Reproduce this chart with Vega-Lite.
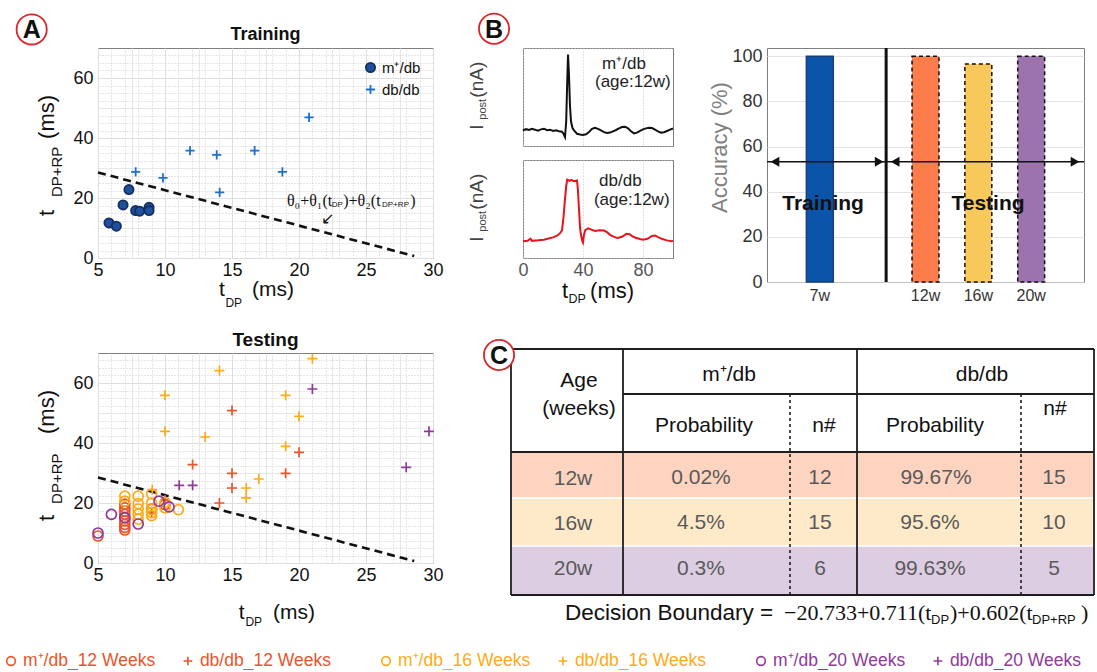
{
  "$schema": "https://vega.github.io/schema/vega-lite/v6.json",
  "background": "white",
  "padding": {"left": 3, "top": 9, "right": 0, "bottom": 0},
  "config": {
    "font": "Liberation Sans",
    "view": {"stroke": "#7f7f7f", "strokeWidth": 1},
    "axis": {"labelFont": "Liberation Sans", "titleFont": "Liberation Sans"},
    "legend": {"labelFont": "Liberation Sans"},
    "title": {"font": "Liberation Sans"},
    "text": {"font": "Liberation Sans"}
  },
  "resolve": {"scale": {"color": "independent", "fill": "independent", "stroke": "independent", "shape": "independent", "strokeDash": "independent", "xOffset": "independent"}},
  "spacing": 23,
  "vconcat": [
    {
      "spacing": 23,
      "resolve": {"scale": {"color": "independent", "fill": "independent", "stroke": "independent", "shape": "independent", "strokeDash": "independent"}},
      "hconcat": [
        {
          "bounds": "flush",
          "spacing": 95,
          "resolve": {"scale": {"color": "independent", "fill": "independent", "stroke": "independent", "shape": "independent", "strokeDash": "independent"}},
          "vconcat": [
            {
              "width": 335,
              "height": 210,
              "resolve": {"axis": {"x": "independent", "y": "independent"}},
              "layer": [
                {
                  "data": {"values": [{"x": 5, "y": 28.5}, {"x": 28.6, "y": 0.65}]},
                  "mark": {"type": "line", "color": "#111", "strokeWidth": 2.6, "strokeDash": [8, 5]},
                  "encoding": {
                    "x": {"field": "x", "type": "quantitative", "scale": {"domain": [5, 30], "nice": false, "zero": false},
                      "axis": {"orient": "top", "title": null, "labels": false, "ticks": false, "domain": false, "grid": true,
                        "values": [6,7,7.5,8,9,11,12,12.5,13,14,16,17,17.5,18,19,21,22,22.5,23,24,26,27,27.5,28,29],
                        "gridColor": {"condition": {"test": "datum.value % 2.5 === 0", "value": "#dedede"}, "value": "#cdcdcd"},
                        "gridDash": {"condition": {"test": "datum.value % 2.5 === 0", "value": [1, 0]}, "value": [1, 2]}}},
                    "y": {"field": "y", "type": "quantitative", "scale": {"domain": [0, 70], "nice": false, "zero": false},
                      "axis": {"orient": "right", "title": null, "labels": false, "ticks": false, "domain": false, "grid": true,
                        "values": [2.5,5,7.5,10,12.5,15,17.5,22.5,25,27.5,30,32.5,35,37.5,42.5,45,47.5,50,52.5,55,57.5,62.5,65,67.5],
                        "gridColor": {"condition": {"test": "datum.value % 10 === 0", "value": "#dedede"}, "value": "#cdcdcd"},
                        "gridDash": {"condition": {"test": "datum.value % 10 === 0", "value": [1, 0]}, "value": [1, 2]}}}
                  }
                },
                {
                  "data": {"values": [
                    {"type": "m⁺/db", "x": 5.82, "y": 11.7},
                    {"type": "m⁺/db", "x": 6.37, "y": 10.6},
                    {"type": "m⁺/db", "x": 6.87, "y": 17.7},
                    {"type": "m⁺/db", "x": 7.31, "y": 22.8},
                    {"type": "m⁺/db", "x": 7.81, "y": 15.8},
                    {"type": "m⁺/db", "x": 8.11, "y": 15.6},
                    {"type": "m⁺/db", "x": 8.81, "y": 16.9},
                    {"type": "m⁺/db", "x": 8.81, "y": 15.8},
                    {"type": "db/db", "x": 7.81, "y": 28.7},
                    {"type": "db/db", "x": 9.85, "y": 26.7},
                    {"type": "db/db", "x": 11.87, "y": 35.8},
                    {"type": "db/db", "x": 13.86, "y": 34.4},
                    {"type": "db/db", "x": 14.08, "y": 21.9},
                    {"type": "db/db", "x": 16.69, "y": 35.8},
                    {"type": "db/db", "x": 18.76, "y": 28.7},
                    {"type": "db/db", "x": 20.75, "y": 46.9}
                  ]},
                  "mark": {"type": "point", "size": 85, "strokeWidth": 1.8, "opacity": 1},
                  "encoding": {
                    "x": {"field": "x", "type": "quantitative", "scale": {"domain": [5, 30], "nice": false, "zero": false},
                      "axis": {"orient": "bottom", "title": null, "values": [5, 10, 15, 20, 25, 30], "labelFontSize": 18, "labelColor": "#111", "labelPadding": 3,
                        "labelFlush": false, "labelOverlap": false, "ticks": false, "domain": false, "grid": true, "gridColor": "#dedede"}},
                    "y": {"field": "y", "type": "quantitative", "scale": {"domain": [0, 70], "nice": false, "zero": false},
                      "axis": {"orient": "left", "title": null, "values": [0, 20, 40, 60], "labelFontSize": 18, "labelColor": "#111", "labelPadding": 5,
                        "labelFlush": false, "labelOverlap": false, "ticks": false, "domain": false, "grid": true, "gridColor": "#dedede"}},
                    "fill": {"field": "type", "type": "nominal", "scale": {"domain": ["m⁺/db", "db/db"], "range": ["#1f4f9d", "transparent"]},
                      "legend": {"title": null, "orient": "top-right", "offset": 12, "padding": 0, "labelFontSize": 15, "labelColor": "#111", "symbolSize": 85, "symbolStrokeWidth": 1.8, "symbolOpacity": 1, "rowPadding": 5}},
                    "stroke": {"field": "type", "type": "nominal", "scale": {"domain": ["m⁺/db", "db/db"], "range": ["#12305f", "#1f6fc9"]},
                      "legend": {"title": null, "orient": "top-right", "offset": 12, "padding": 0, "labelFontSize": 15, "labelColor": "#111", "symbolSize": 85, "symbolStrokeWidth": 1.8, "symbolOpacity": 1, "rowPadding": 5}},
                    "shape": {"field": "type", "type": "nominal", "scale": {"domain": ["m⁺/db", "db/db"], "range": ["circle", "M-1,0L1,0M0,-1L0,1"]},
                      "legend": {"title": null, "orient": "top-right", "offset": 12, "padding": 0, "labelFontSize": 15, "labelColor": "#111", "symbolSize": 85, "symbolStrokeWidth": 1.8, "symbolOpacity": 1, "rowPadding": 5}}
                  }
                },
                {
                  "data": {"values": [{"x": 17.5, "y": 74.33, "text": "Training"}]},
                  "mark": {"type": "text", "fontSize": 18, "fontWeight": "bold", "color": "#111", "baseline": "middle"},
                  "encoding": {
                    "x": {"field": "x", "type": "quantitative", "scale": {"domain": [5, 30], "nice": false, "zero": false}, "axis": null},
                    "y": {"field": "y", "type": "quantitative", "scale": {"domain": [0, 70], "nice": false, "zero": false}, "axis": null},
                    "text": {"field": "text"}
                  }
                },
                {
                  "data": {"values": [{"x": 19.1, "y": 19, "text": "θ₀+θ₁(t"}, {"x": 23.3, "y": 19, "text": ")+θ₂(t"}, {"x": 28.3, "y": 19, "text": ")"}]},
                  "mark": {"type": "text", "font": "Liberation Serif", "fontSize": 16, "align": "left", "baseline": "middle", "color": "#111"},
                  "encoding": {
                    "x": {"field": "x", "type": "quantitative", "scale": {"domain": [5, 30], "nice": false, "zero": false}, "axis": null},
                    "y": {"field": "y", "type": "quantitative", "scale": {"domain": [0, 70], "nice": false, "zero": false}, "axis": null},
                    "text": {"field": "text"}
                  }
                },
                {
                  "data": {"values": [{"x": 22.45, "y": 17.7, "text": "DP"}, {"x": 26.2, "y": 17.7, "text": "DP+RP"}]},
                  "mark": {"type": "text", "fontSize": 8, "align": "left", "baseline": "middle", "color": "#111"},
                  "encoding": {
                    "x": {"field": "x", "type": "quantitative", "scale": {"domain": [5, 30], "nice": false, "zero": false}, "axis": null},
                    "y": {"field": "y", "type": "quantitative", "scale": {"domain": [0, 70], "nice": false, "zero": false}, "axis": null},
                    "text": {"field": "text"}
                  }
                },
                {
                  "data": {"values": [{"x": 22.16, "y": 13, "text": "↙"}]},
                  "mark": {"type": "text", "font": "DejaVu Sans", "fontSize": 16, "color": "#111"},
                  "encoding": {
                    "x": {"field": "x", "type": "quantitative", "scale": {"domain": [5, 30], "nice": false, "zero": false}, "axis": null},
                    "y": {"field": "y", "type": "quantitative", "scale": {"domain": [0, 70], "nice": false, "zero": false}, "axis": null},
                    "text": {"field": "text"}
                  }
                },
                {
                  "data": {"values": [{"x": 14.03, "y": -10.7, "text": "t"}, {"x": 16.49, "y": -10.7, "text": "(ms)"}]},
                  "mark": {"type": "text", "fontSize": 21, "align": "left", "baseline": "middle", "color": "#111"},
                  "encoding": {
                    "x": {"field": "x", "type": "quantitative", "scale": {"domain": [5, 30], "nice": false, "zero": false}, "axis": null},
                    "y": {"field": "y", "type": "quantitative", "scale": {"domain": [0, 70], "nice": false, "zero": false}, "axis": null},
                    "text": {"field": "text"}
                  }
                },
                {
                  "data": {"values": [{"x": 14.51, "y": -15, "text": "DP"}]},
                  "mark": {"type": "text", "fontSize": 12, "align": "left", "baseline": "middle", "color": "#111"},
                  "encoding": {
                    "x": {"field": "x", "type": "quantitative", "scale": {"domain": [5, 30], "nice": false, "zero": false}, "axis": null},
                    "y": {"field": "y", "type": "quantitative", "scale": {"domain": [0, 70], "nice": false, "zero": false}, "axis": null},
                    "text": {"field": "text"}
                  }
                },
                {
                  "data": {"values": [{"x": 1.19, "y": 14, "text": "t"}, {"x": 1.19, "y": 39.7, "text": "(ms)"}]},
                  "mark": {"type": "text", "fontSize": 22, "angle": 270, "align": "left", "baseline": "middle", "color": "#111"},
                  "encoding": {
                    "x": {"field": "x", "type": "quantitative", "scale": {"domain": [5, 30], "nice": false, "zero": false}, "axis": null},
                    "y": {"field": "y", "type": "quantitative", "scale": {"domain": [0, 70], "nice": false, "zero": false}, "axis": null},
                    "text": {"field": "text"}
                  }
                },
                {
                  "data": {"values": [{"x": 1.94, "y": 20.3, "text": "DP+RP"}]},
                  "mark": {"type": "text", "fontSize": 15, "angle": 270, "align": "left", "baseline": "middle", "color": "#111"},
                  "encoding": {
                    "x": {"field": "x", "type": "quantitative", "scale": {"domain": [5, 30], "nice": false, "zero": false}, "axis": null},
                    "y": {"field": "y", "type": "quantitative", "scale": {"domain": [0, 70], "nice": false, "zero": false}, "axis": null},
                    "text": {"field": "text"}
                  }
                },
                {
                  "data": {"values": [{"x": 0.05, "y": 76.2}]},
                  "mark": {"type": "point", "shape": "circle", "size": 910, "filled": false, "fill": "white", "stroke": "#d7262b", "strokeWidth": 1.8, "opacity": 1},
                  "encoding": {
                    "x": {"field": "x", "type": "quantitative", "scale": {"domain": [5, 30], "nice": false, "zero": false}, "axis": null},
                    "y": {"field": "y", "type": "quantitative", "scale": {"domain": [0, 70], "nice": false, "zero": false}, "axis": null}
                  }
                },
                {
                  "data": {"values": [{"x": 0.05, "y": 76.2, "text": "A"}]},
                  "mark": {"type": "text", "fontSize": 25, "fontWeight": "bold", "color": "#111", "baseline": "middle", "dy": 1},
                  "encoding": {
                    "x": {"field": "x", "type": "quantitative", "scale": {"domain": [5, 30], "nice": false, "zero": false}, "axis": null},
                    "y": {"field": "y", "type": "quantitative", "scale": {"domain": [0, 70], "nice": false, "zero": false}, "axis": null},
                    "text": {"field": "text"}
                  }
                }
              ]
            },
            {
              "width": 335,
              "height": 210,
              "resolve": {"axis": {"x": "independent", "y": "independent"}},
              "layer": [
                {
                  "data": {"values": [{"x": 5, "y": 28.5}, {"x": 28.6, "y": 0.65}]},
                  "mark": {"type": "line", "color": "#111", "strokeWidth": 2.6, "strokeDash": [8, 5]},
                  "encoding": {
                    "x": {"field": "x", "type": "quantitative", "scale": {"domain": [5, 30], "nice": false, "zero": false},
                      "axis": {"orient": "top", "title": null, "labels": false, "ticks": false, "domain": false, "grid": true,
                        "values": [6,7,7.5,8,9,11,12,12.5,13,14,16,17,17.5,18,19,21,22,22.5,23,24,26,27,27.5,28,29],
                        "gridColor": {"condition": {"test": "datum.value % 2.5 === 0", "value": "#dedede"}, "value": "#cdcdcd"},
                        "gridDash": {"condition": {"test": "datum.value % 2.5 === 0", "value": [1, 0]}, "value": [1, 2]}}},
                    "y": {"field": "y", "type": "quantitative", "scale": {"domain": [0, 70], "nice": false, "zero": false},
                      "axis": {"orient": "right", "title": null, "labels": false, "ticks": false, "domain": false, "grid": true,
                        "values": [2.5,5,7.5,10,12.5,15,17.5,22.5,25,27.5,30,32.5,35,37.5,42.5,45,47.5,50,52.5,55,57.5,62.5,65,67.5],
                        "gridColor": {"condition": {"test": "datum.value % 10 === 0", "value": "#dedede"}, "value": "#cdcdcd"},
                        "gridDash": {"condition": {"test": "datum.value % 10 === 0", "value": [1, 0]}, "value": [1, 2]}}}
                  }
                },
                {
                  "data": {"values": [
                    {"age": "12w", "type": "m⁺/db", "x": 5, "y": 9},
                    {"age": "12w", "type": "m⁺/db", "x": 7, "y": 11},
                    {"age": "12w", "type": "m⁺/db", "x": 7, "y": 11.9},
                    {"age": "12w", "type": "m⁺/db", "x": 7, "y": 12.9},
                    {"age": "12w", "type": "m⁺/db", "x": 7, "y": 14},
                    {"age": "12w", "type": "m⁺/db", "x": 7, "y": 15.1},
                    {"age": "12w", "type": "m⁺/db", "x": 7, "y": 16.2},
                    {"age": "12w", "type": "m⁺/db", "x": 7, "y": 17.3},
                    {"age": "12w", "type": "m⁺/db", "x": 7, "y": 18.4},
                    {"age": "12w", "type": "m⁺/db", "x": 7, "y": 19.6},
                    {"age": "12w", "type": "m⁺/db", "x": 9, "y": 18},
                    {"age": "12w", "type": "m⁺/db", "x": 10, "y": 19.5},
                    {"age": "12w", "type": "db/db", "x": 12.06, "y": 32.8},
                    {"age": "12w", "type": "db/db", "x": 15, "y": 50.8},
                    {"age": "12w", "type": "db/db", "x": 15, "y": 29.9},
                    {"age": "12w", "type": "db/db", "x": 15, "y": 25},
                    {"age": "12w", "type": "db/db", "x": 14.06, "y": 20},
                    {"age": "12w", "type": "db/db", "x": 19, "y": 29.9},
                    {"age": "12w", "type": "db/db", "x": 20, "y": 36.9},
                    {"age": "12w", "type": "db/db", "x": 9, "y": 17},
                    {"age": "12w", "type": "db/db", "x": 10, "y": 21},
                    {"age": "16w", "type": "m⁺/db", "x": 7, "y": 22.3},
                    {"age": "16w", "type": "m⁺/db", "x": 7, "y": 20.6},
                    {"age": "16w", "type": "m⁺/db", "x": 8, "y": 22.3},
                    {"age": "16w", "type": "m⁺/db", "x": 8, "y": 19.8},
                    {"age": "16w", "type": "m⁺/db", "x": 8, "y": 18},
                    {"age": "16w", "type": "m⁺/db", "x": 8, "y": 16.3},
                    {"age": "16w", "type": "m⁺/db", "x": 9, "y": 23},
                    {"age": "16w", "type": "m⁺/db", "x": 9, "y": 20},
                    {"age": "16w", "type": "m⁺/db", "x": 9, "y": 17.8},
                    {"age": "16w", "type": "m⁺/db", "x": 9, "y": 16.8},
                    {"age": "16w", "type": "m⁺/db", "x": 9, "y": 15.8},
                    {"age": "16w", "type": "m⁺/db", "x": 10, "y": 18.4},
                    {"age": "16w", "type": "m⁺/db", "x": 11, "y": 17.8},
                    {"age": "16w", "type": "m⁺/db", "x": 10, "y": 20.2},
                    {"age": "16w", "type": "m⁺/db", "x": 8, "y": 14.6},
                    {"age": "16w", "type": "db/db", "x": 10, "y": 55.9},
                    {"age": "16w", "type": "db/db", "x": 10, "y": 43.9},
                    {"age": "16w", "type": "db/db", "x": 14.06, "y": 64.1},
                    {"age": "16w", "type": "db/db", "x": 13, "y": 42},
                    {"age": "16w", "type": "db/db", "x": 19, "y": 55.9},
                    {"age": "16w", "type": "db/db", "x": 20, "y": 48.9},
                    {"age": "16w", "type": "db/db", "x": 19, "y": 38.9},
                    {"age": "16w", "type": "db/db", "x": 21, "y": 68.1},
                    {"age": "16w", "type": "db/db", "x": 17, "y": 28},
                    {"age": "16w", "type": "db/db", "x": 16.06, "y": 25},
                    {"age": "16w", "type": "db/db", "x": 16.06, "y": 21.7},
                    {"age": "16w", "type": "db/db", "x": 9.05, "y": 24.4},
                    {"age": "20w", "type": "m⁺/db", "x": 5, "y": 10},
                    {"age": "20w", "type": "m⁺/db", "x": 6, "y": 16.2},
                    {"age": "20w", "type": "m⁺/db", "x": 7, "y": 15.1},
                    {"age": "20w", "type": "m⁺/db", "x": 8, "y": 13},
                    {"age": "20w", "type": "m⁺/db", "x": 9.55, "y": 20.6},
                    {"age": "20w", "type": "m⁺/db", "x": 10.3, "y": 18.7},
                    {"age": "20w", "type": "db/db", "x": 11.06, "y": 25.9},
                    {"age": "20w", "type": "db/db", "x": 12.06, "y": 25.9},
                    {"age": "20w", "type": "db/db", "x": 21, "y": 58},
                    {"age": "20w", "type": "db/db", "x": 28, "y": 31.9},
                    {"age": "20w", "type": "db/db", "x": 29.7, "y": 43.9}
                  ]},
                  "mark": {"type": "point", "filled": false, "size": 100, "strokeWidth": 1.7, "opacity": 1},
                  "encoding": {
                    "x": {"field": "x", "type": "quantitative", "scale": {"domain": [5, 30], "nice": false, "zero": false},
                      "axis": {"orient": "bottom", "title": null, "values": [5, 10, 15, 20, 25, 30], "labelFontSize": 18, "labelColor": "#111", "labelPadding": 3,
                        "labelFlush": false, "labelOverlap": false, "ticks": false, "domain": false, "grid": true, "gridColor": "#dedede"}},
                    "y": {"field": "y", "type": "quantitative", "scale": {"domain": [0, 70], "nice": false, "zero": false},
                      "axis": {"orient": "left", "title": null, "values": [0, 20, 40, 60], "labelFontSize": 18, "labelColor": "#111", "labelPadding": 5,
                        "labelFlush": false, "labelOverlap": false, "ticks": false, "domain": false, "grid": true, "gridColor": "#dedede"}},
                    "color": {"field": "age", "type": "nominal", "scale": {"domain": ["12w", "16w", "20w"], "range": ["#e8552b", "#fdab16", "#8e3b97"]}, "legend": null},
                    "shape": {"field": "type", "type": "nominal", "scale": {"domain": ["m⁺/db", "db/db"], "range": ["circle", "M-1,0L1,0M0,-1L0,1"]}, "legend": null}
                  }
                },
                {
                  "data": {"values": [{"x": 17.5, "y": 74.33, "text": "Testing"}]},
                  "mark": {"type": "text", "fontSize": 19, "fontWeight": "bold", "color": "#111", "baseline": "middle"},
                  "encoding": {
                    "x": {"field": "x", "type": "quantitative", "scale": {"domain": [5, 30], "nice": false, "zero": false}, "axis": null},
                    "y": {"field": "y", "type": "quantitative", "scale": {"domain": [0, 70], "nice": false, "zero": false}, "axis": null},
                    "text": {"field": "text"}
                  }
                },
                {
                  "data": {"values": [{"x": 15.51, "y": -16.67, "text": "t"}, {"x": 18.06, "y": -16.67, "text": "(ms)"}]},
                  "mark": {"type": "text", "fontSize": 21, "align": "left", "baseline": "middle", "color": "#111"},
                  "encoding": {
                    "x": {"field": "x", "type": "quantitative", "scale": {"domain": [5, 30], "nice": false, "zero": false}, "axis": null},
                    "y": {"field": "y", "type": "quantitative", "scale": {"domain": [0, 70], "nice": false, "zero": false}, "axis": null},
                    "text": {"field": "text"}
                  }
                },
                {
                  "data": {"values": [{"x": 16.0, "y": -19.8, "text": "DP"}]},
                  "mark": {"type": "text", "fontSize": 12, "align": "left", "baseline": "middle", "color": "#111"},
                  "encoding": {
                    "x": {"field": "x", "type": "quantitative", "scale": {"domain": [5, 30], "nice": false, "zero": false}, "axis": null},
                    "y": {"field": "y", "type": "quantitative", "scale": {"domain": [0, 70], "nice": false, "zero": false}, "axis": null},
                    "text": {"field": "text"}
                  }
                },
                {
                  "data": {"values": [{"x": 1.19, "y": 14, "text": "t"}, {"x": 1.19, "y": 43, "text": "(ms)"}]},
                  "mark": {"type": "text", "fontSize": 22, "angle": 270, "align": "left", "baseline": "middle", "color": "#111"},
                  "encoding": {
                    "x": {"field": "x", "type": "quantitative", "scale": {"domain": [5, 30], "nice": false, "zero": false}, "axis": null},
                    "y": {"field": "y", "type": "quantitative", "scale": {"domain": [0, 70], "nice": false, "zero": false}, "axis": null},
                    "text": {"field": "text"}
                  }
                },
                {
                  "data": {"values": [{"x": 1.94, "y": 19.7, "text": "DP+RP"}]},
                  "mark": {"type": "text", "fontSize": 15, "angle": 270, "align": "left", "baseline": "middle", "color": "#111"},
                  "encoding": {
                    "x": {"field": "x", "type": "quantitative", "scale": {"domain": [5, 30], "nice": false, "zero": false}, "axis": null},
                    "y": {"field": "y", "type": "quantitative", "scale": {"domain": [0, 70], "nice": false, "zero": false}, "axis": null},
                    "text": {"field": "text"}
                  }
                }
              ]
            }
          ]
        },
        {
          "spacing": 30,
          "resolve": {"scale": {"color": "independent", "fill": "independent", "stroke": "independent", "shape": "independent", "strokeDash": "independent"}},
          "vconcat": [
            {
              "spacing": 30,
              "resolve": {"scale": {"color": "independent", "fill": "independent", "stroke": "independent", "shape": "independent", "strokeDash": "independent"}},
              "hconcat": [
                {
                  "bounds": "flush",
                  "spacing": 14,
                  "resolve": {"scale": {"color": "independent", "fill": "independent", "stroke": "independent", "shape": "independent", "strokeDash": "independent"}},
                  "vconcat": [
                    {
                      "width": 150,
                      "height": 98,
                      "layer": [
                        {
                          "data": {"values": [
                            {"x":0,"y":-0.5},{"x":2,"y":0.3},{"x":4,"y":-0.2},{"x":6,"y":0.5},{"x":8,"y":0},{"x":10,"y":-0.6},{"x":12,"y":0.2},{"x":14,"y":0.6},{"x":16,"y":-0.3},{"x":18,"y":0},{"x":20,"y":-0.8},{"x":22,"y":-0.4},{"x":24,"y":-1},{"x":26,"y":-1.3},{"x":27,"y":-2.5},{"x":28,"y":-4.5},{"x":28.8,"y":5},{"x":29.5,"y":30},{"x":30,"y":46},{"x":30.6,"y":35},{"x":31.3,"y":15},{"x":32,"y":5},{"x":33,"y":1},{"x":34,"y":-0.5},{"x":36,"y":-2.5},{"x":38,"y":-3},{"x":40,"y":-3.2},{"x":42,"y":-2.8},{"x":44,"y":-1.5},{"x":46,"y":0.5},{"x":48,"y":1.2},{"x":50,"y":0.5},{"x":52,"y":-0.5},{"x":54,"y":-1.5},{"x":56,"y":-2},{"x":58,"y":-1.8},{"x":60,"y":-1},{"x":62,"y":-0.2},{"x":64,"y":0.8},{"x":66,"y":1.6},{"x":68,"y":1.8},{"x":70,"y":0.8},{"x":72,"y":-1},{"x":74,"y":-2.3},{"x":76,"y":-1.8},{"x":78,"y":-0.8},{"x":80,"y":0.2},{"x":82,"y":0.8},{"x":84,"y":1.2},{"x":86,"y":1},{"x":88,"y":0},{"x":90,"y":-1},{"x":92,"y":-1.8},{"x":94,"y":-1.6},{"x":96,"y":-0.8},{"x":98,"y":0},{"x":100,"y":0.7}
                          ]},
                          "mark": {"type": "line", "color": "#111", "strokeWidth": 2},
                          "encoding": {
                            "x": {"field": "x", "type": "quantitative", "scale": {"domain": [0, 100], "nice": false, "zero": false},
                              "axis": {"title": null, "values": [0,5,10,15,20,25,30,35,40,45,50,55,60,65,70,75,80,85,90,95,100], "labels": false, "ticks": false, "domain": false, "grid": true, "gridColor": "#c4c4c4", "gridDash": [1, 2]}},
                            "y": {"field": "y", "type": "quantitative", "scale": {"domain": [-10, 50], "nice": false, "zero": false},
                              "axis": {"title": null, "values": [-10,-5,0,5,10,15,20,25,30,35,40,45,50], "labelExpr": "datum.value % 20 === 0 ? datum.label : ''", "labelFontSize": 18, "labelColor": "#555", "labelPadding": 3, "labelOverlap": false, "labelFlush": false, "ticks": false, "domain": false, "grid": true, "gridColor": "#c4c4c4", "gridDash": [1, 2]}}
                          }
                        },
                        {
                          "data": {"values": [{"x": 52.7, "y": 40.4, "text": "m⁺/db"}, {"x": 48, "y": 29.4, "text": "(age:12w)"}]},
                          "mark": {"type": "text", "fontSize": 17, "align": "left", "baseline": "middle", "color": "#222"},
                          "encoding": {
                            "x": {"field": "x", "type": "quantitative", "scale": {"domain": [0, 100], "nice": false, "zero": false}},
                            "y": {"field": "y", "type": "quantitative", "scale": {"domain": [-10, 50], "nice": false, "zero": false}},
                            "text": {"field": "text"}
                          }
                        },
                        {
                          "data": {"values": [{"x": -30.7, "y": 0, "text": "I"}, {"x": -30.7, "y": 19.6, "text": "(nA)"}]},
                          "mark": {"type": "text", "fontSize": 19, "angle": 270, "align": "left", "baseline": "middle", "color": "#444"},
                          "encoding": {
                            "x": {"field": "x", "type": "quantitative", "scale": {"domain": [0, 100], "nice": false, "zero": false}},
                            "y": {"field": "y", "type": "quantitative", "scale": {"domain": [-10, 50], "nice": false, "zero": false}},
                            "text": {"field": "text"}
                          }
                        },
                        {
                          "data": {"values": [{"x": -26.7, "y": 6.1, "text": "post"}]},
                          "mark": {"type": "text", "fontSize": 11, "angle": 270, "align": "left", "baseline": "middle", "color": "#444"},
                          "encoding": {
                            "x": {"field": "x", "type": "quantitative", "scale": {"domain": [0, 100], "nice": false, "zero": false}},
                            "y": {"field": "y", "type": "quantitative", "scale": {"domain": [-10, 50], "nice": false, "zero": false}},
                            "text": {"field": "text"}
                          }
                        },
                        {
                          "data": {"values": [{"x": -19.3, "y": 61.8}]},
                          "mark": {"type": "point", "shape": "circle", "size": 910, "filled": false, "fill": "white", "stroke": "#d7262b", "strokeWidth": 1.8, "opacity": 1},
                          "encoding": {
                            "x": {"field": "x", "type": "quantitative", "scale": {"domain": [0, 100], "nice": false, "zero": false}},
                            "y": {"field": "y", "type": "quantitative", "scale": {"domain": [-10, 50], "nice": false, "zero": false}}
                          }
                        },
                        {
                          "data": {"values": [{"x": -19.3, "y": 61.8, "text": "B"}]},
                          "mark": {"type": "text", "fontSize": 25, "fontWeight": "bold", "color": "#111", "baseline": "middle", "dy": 1},
                          "encoding": {
                            "x": {"field": "x", "type": "quantitative", "scale": {"domain": [0, 100], "nice": false, "zero": false}},
                            "y": {"field": "y", "type": "quantitative", "scale": {"domain": [-10, 50], "nice": false, "zero": false}},
                            "text": {"field": "text"}
                          }
                        }
                      ]
                    },
                    {
                      "width": 150,
                      "height": 98,
                      "layer": [
                        {
                          "data": {"values": [
                            {"x":0,"y":0.2},{"x":3,"y":0.5},{"x":5,"y":1.8},{"x":6,"y":0.5},{"x":10,"y":0.8},{"x":14,"y":1.2},{"x":17,"y":1.9},{"x":20,"y":2.6},{"x":23,"y":3.8},{"x":25,"y":5.5},{"x":26,"y":6.9},{"x":27,"y":15},{"x":28,"y":26},{"x":28.8,"y":34},{"x":29.5,"y":38},{"x":31,"y":37.2},{"x":32,"y":37.8},{"x":34,"y":37},{"x":36,"y":37.5},{"x":36.6,"y":32},{"x":37.2,"y":22},{"x":38,"y":9},{"x":38.5,"y":5},{"x":39.5,"y":0.5},{"x":40,"y":-0.5},{"x":40.6,"y":4},{"x":41.5,"y":7},{"x":43.5,"y":8.2},{"x":46,"y":7.2},{"x":48,"y":6.5},{"x":51,"y":7},{"x":54,"y":6.8},{"x":56,"y":5.8},{"x":58,"y":4.2},{"x":60,"y":3.2},{"x":63,"y":2.2},{"x":66,"y":3},{"x":69,"y":4.8},{"x":71,"y":4.6},{"x":73,"y":3.3},{"x":75,"y":2.4},{"x":78,"y":1.6},{"x":80,"y":1.2},{"x":83,"y":1.8},{"x":86,"y":3.5},{"x":88,"y":3.8},{"x":90,"y":2.8},{"x":93,"y":1.6},{"x":96,"y":0.8},{"x":99,"y":0.3},{"x":100,"y":0.5}
                          ]},
                          "mark": {"type": "line", "color": "#e8141b", "strokeWidth": 2},
                          "encoding": {
                            "x": {"field": "x", "type": "quantitative", "scale": {"domain": [0, 100], "nice": false, "zero": false},
                              "axis": {"title": null, "values": [0,5,10,15,20,25,30,35,40,45,50,55,60,65,70,75,80,85,90,95,100], "labelExpr": "datum.value % 40 === 0 ? datum.label : ''", "labelFontSize": 18, "labelColor": "#555", "labelPadding": 3, "labelOverlap": false, "labelFlush": false, "ticks": false, "domain": false, "grid": true, "gridColor": "#c4c4c4", "gridDash": [1, 2]}},
                            "y": {"field": "y", "type": "quantitative", "scale": {"domain": [-10, 50], "nice": false, "zero": false},
                              "axis": {"title": null, "values": [-10,-5,0,5,10,15,20,25,30,35,40,45,50], "labelExpr": "datum.value % 20 === 0 ? datum.label : ''", "labelFontSize": 18, "labelColor": "#555", "labelPadding": 3, "labelOverlap": false, "labelFlush": false, "ticks": false, "domain": false, "grid": true, "gridColor": "#c4c4c4", "gridDash": [1, 2]}}
                          }
                        },
                        {
                          "data": {"values": [{"x": 50.7, "y": 37.1, "text": "db/db"}, {"x": 47.3, "y": 25.5, "text": "(age:12w)"}]},
                          "mark": {"type": "text", "fontSize": 17, "align": "left", "baseline": "middle", "color": "#222"},
                          "encoding": {
                            "x": {"field": "x", "type": "quantitative", "scale": {"domain": [0, 100], "nice": false, "zero": false}},
                            "y": {"field": "y", "type": "quantitative", "scale": {"domain": [-10, 50], "nice": false, "zero": false}},
                            "text": {"field": "text"}
                          }
                        },
                        {
                          "data": {"values": [{"x": -30.7, "y": 0, "text": "I"}, {"x": -30.7, "y": 19.6, "text": "(nA)"}]},
                          "mark": {"type": "text", "fontSize": 19, "angle": 270, "align": "left", "baseline": "middle", "color": "#444"},
                          "encoding": {
                            "x": {"field": "x", "type": "quantitative", "scale": {"domain": [0, 100], "nice": false, "zero": false}},
                            "y": {"field": "y", "type": "quantitative", "scale": {"domain": [-10, 50], "nice": false, "zero": false}},
                            "text": {"field": "text"}
                          }
                        },
                        {
                          "data": {"values": [{"x": -26.7, "y": 6.1, "text": "post"}]},
                          "mark": {"type": "text", "fontSize": 11, "angle": 270, "align": "left", "baseline": "middle", "color": "#444"},
                          "encoding": {
                            "x": {"field": "x", "type": "quantitative", "scale": {"domain": [0, 100], "nice": false, "zero": false}},
                            "y": {"field": "y", "type": "quantitative", "scale": {"domain": [-10, 50], "nice": false, "zero": false}},
                            "text": {"field": "text"}
                          }
                        },
                        {
                          "data": {"values": [{"x": 26, "y": -30.2, "text": "t"}, {"x": 44.7, "y": -30.2, "text": "(ms)"}]},
                          "mark": {"type": "text", "fontSize": 22, "align": "left", "baseline": "middle", "color": "#111"},
                          "encoding": {
                            "x": {"field": "x", "type": "quantitative", "scale": {"domain": [0, 100], "nice": false, "zero": false}},
                            "y": {"field": "y", "type": "quantitative", "scale": {"domain": [-10, 50], "nice": false, "zero": false}},
                            "text": {"field": "text"}
                          }
                        },
                        {
                          "data": {"values": [{"x": 30.3, "y": -35.1, "text": "DP"}]},
                          "mark": {"type": "text", "fontSize": 12.5, "align": "left", "baseline": "middle", "color": "#111"},
                          "encoding": {
                            "x": {"field": "x", "type": "quantitative", "scale": {"domain": [0, 100], "nice": false, "zero": false}},
                            "y": {"field": "y", "type": "quantitative", "scale": {"domain": [-10, 50], "nice": false, "zero": false}},
                            "text": {"field": "text"}
                          }
                        }
                      ]
                    }
                  ]
                },
                {
                  "width": 317,
                  "height": 234,
                  "layer": [
                    {
                      "data": {"values": [
                        {"age": "7w", "acc": 100, "phase": "Training"},
                        {"age": "12w", "acc": 100, "phase": "Testing"},
                        {"age": "16w", "acc": 96.6, "phase": "Testing"},
                        {"age": "20w", "acc": 100, "phase": "Testing"}
                      ]},
                      "mark": {"type": "bar", "strokeWidth": 1.5},
                      "encoding": {
                        "x": {"field": "age", "type": "nominal", "scale": {"domain": ["7w", " ", "12w", "16w", "20w"], "paddingInner": 0.49, "paddingOuter": 0.745},
                          "axis": {"title": null, "labelFontSize": 16, "labelColor": "#333", "labelPadding": 5, "labelAngle": 0, "ticks": false, "domain": false, "grid": false}},
                        "y": {"field": "acc", "type": "quantitative", "scale": {"domain": [0, 103.67], "nice": false, "zero": false},
                          "axis": {"title": "Accuracy (%)", "titleFontSize": 22, "titleColor": "#808080", "titleFontWeight": "normal", "titlePadding": 0, "titleY": 99,
                            "values": [0,10,20,30,40,50,60,70,80,90,100], "labelExpr": "datum.value % 20 === 0 ? datum.label : ''",
                            "labelFontSize": 18, "labelColor": "#333", "labelPadding": 5, "labelOverlap": false, "labelFlush": false, "ticks": false, "domain": false, "grid": true,
                            "gridColor": {"condition": {"test": "datum.value % 20 === 0", "value": "#dcdcdc"}, "value": "#c8c8c8"},
                            "gridDash": {"condition": {"test": "datum.value % 20 === 0", "value": [1, 0]}, "value": [1, 2]}}},
                        "fill": {"field": "age", "type": "nominal", "scale": {"domain": ["7w", "12w", "16w", "20w"], "range": ["#0a54aa", "#fd7c4c", "#f8c85b", "#9c73ac"]}, "legend": null},
                        "stroke": {"field": "phase", "type": "nominal", "scale": {"domain": ["Training", "Testing"], "range": ["#1d3f73", "#111111"]}, "legend": null},
                        "strokeDash": {"field": "phase", "type": "nominal", "scale": {"domain": ["Training", "Testing"], "range": [[1, 0], [4, 3]]}, "legend": null}
                      }
                    },
                    {
                      "data": {"values": [{"age": " "}]},
                      "mark": {"type": "rule", "color": "#111", "strokeWidth": 3},
                      "encoding": {
                        "x": {"field": "age", "type": "nominal", "bandPosition": 1, "scale": {"domain": ["7w", " ", "12w", "16w", "20w"], "paddingInner": 0.49, "paddingOuter": 0.745}}
                      }
                    },
                    {
                      "data": {"values": [{"age": " ", "acc": 53.3}]},
                      "mark": {"type": "rule", "color": "#111", "strokeWidth": 1.5},
                      "encoding": {
                        "x": {"field": "age", "type": "nominal", "bandPosition": 1, "scale": {"domain": ["7w", " ", "12w", "16w", "20w"], "paddingInner": 0.49, "paddingOuter": 0.745}},
                        "x2": {"value": 0},
                        "y": {"field": "acc", "type": "quantitative", "scale": {"domain": [0, 103.67], "nice": false, "zero": false}}
                      }
                    },
                    {
                      "data": {"values": [{"age": " ", "acc": 53.3}]},
                      "mark": {"type": "rule", "color": "#111", "strokeWidth": 1.5},
                      "encoding": {
                        "x": {"field": "age", "type": "nominal", "bandPosition": 1, "scale": {"domain": ["7w", " ", "12w", "16w", "20w"], "paddingInner": 0.49, "paddingOuter": 0.745}},
                        "x2": {"value": "width"},
                        "y": {"field": "acc", "type": "quantitative", "scale": {"domain": [0, 103.67], "nice": false, "zero": false}}
                      }
                    },
                    {
                      "data": {"values": [{"acc": 53.3}]},
                      "mark": {"type": "point", "shape": "triangle-left", "size": 100, "filled": true, "color": "#111", "opacity": 1, "xOffset": 8},
                      "encoding": {
                        "x": {"value": 0},
                        "y": {"field": "acc", "type": "quantitative", "scale": {"domain": [0, 103.67], "nice": false, "zero": false}}
                      }
                    },
                    {
                      "data": {"values": [{"acc": 53.3}]},
                      "mark": {"type": "point", "shape": "triangle-right", "size": 100, "filled": true, "color": "#111", "opacity": 1, "xOffset": -9},
                      "encoding": {
                        "x": {"value": "width"},
                        "y": {"field": "acc", "type": "quantitative", "scale": {"domain": [0, 103.67], "nice": false, "zero": false}}
                      }
                    },
                    {
                      "data": {"values": [{"age": " ", "acc": 53.3}]},
                      "mark": {"type": "point", "shape": "triangle-right", "size": 100, "filled": true, "color": "#111", "opacity": 1, "xOffset": -7},
                      "encoding": {
                        "x": {"field": "age", "type": "nominal", "bandPosition": 1, "scale": {"domain": ["7w", " ", "12w", "16w", "20w"], "paddingInner": 0.49, "paddingOuter": 0.745}},
                        "y": {"field": "acc", "type": "quantitative", "scale": {"domain": [0, 103.67], "nice": false, "zero": false}}
                      }
                    },
                    {
                      "data": {"values": [{"age": " ", "acc": 53.3}]},
                      "mark": {"type": "point", "shape": "triangle-left", "size": 100, "filled": true, "color": "#111", "opacity": 1, "xOffset": 9},
                      "encoding": {
                        "x": {"field": "age", "type": "nominal", "bandPosition": 1, "scale": {"domain": ["7w", " ", "12w", "16w", "20w"], "paddingInner": 0.49, "paddingOuter": 0.745}},
                        "y": {"field": "acc", "type": "quantitative", "scale": {"domain": [0, 103.67], "nice": false, "zero": false}}
                      }
                    },
                    {
                      "data": {"values": [{"age": "7w", "acc": 34.5, "label": "Training"}]},
                      "mark": {"type": "text", "fontSize": 21, "fontWeight": "bold", "color": "#111", "baseline": "middle"},
                      "encoding": {
                        "x": {"field": "age", "type": "nominal", "bandPosition": 0.62, "scale": {"domain": ["7w", " ", "12w", "16w", "20w"], "paddingInner": 0.49, "paddingOuter": 0.745}},
                        "y": {"field": "acc", "type": "quantitative", "scale": {"domain": [0, 103.67], "nice": false, "zero": false}},
                        "text": {"field": "label"}
                      }
                    },
                    {
                      "data": {"values": [{"age": "16w", "acc": 34.5, "label": "Testing"}]},
                      "mark": {"type": "text", "fontSize": 21, "fontWeight": "bold", "color": "#111", "baseline": "middle"},
                      "encoding": {
                        "x": {"field": "age", "type": "nominal", "bandPosition": 0.86, "scale": {"domain": ["7w", " ", "12w", "16w", "20w"], "paddingInner": 0.49, "paddingOuter": 0.745}},
                        "y": {"field": "acc", "type": "quantitative", "scale": {"domain": [0, 103.67], "nice": false, "zero": false}},
                        "text": {"field": "label"}
                      }
                    }
                  ]
                }
              ]
            },
            {
              "width": 571,
              "height": 246,
              "view": {"stroke": null},
              "layer": [
                {
                  "data": {"values": [
                    {"age": "12w", "y0": 103, "y1": 149},
                    {"age": "16w", "y0": 149, "y1": 197},
                    {"age": "20w", "y0": 197, "y1": 246}
                  ]},
                  "mark": {"type": "rect", "stroke": "white", "strokeWidth": 1.5},
                  "encoding": {
                    "x": {"datum": 0, "type": "quantitative", "scale": {"domain": [12, 583], "nice": false, "zero": false}, "axis": null},
                    "x2": {"datum": 583},
                    "y": {"field": "y0", "type": "quantitative", "scale": {"domain": [0, 246], "nice": false, "zero": false, "reverse": true}, "axis": null},
                    "y2": {"field": "y1"},
                    "fill": {"field": "age", "type": "nominal", "scale": {"domain": ["12w", "16w", "20w"], "range": ["#fdd4c0", "#feeac8", "#ddcde2"]}, "legend": null}
                  }
                },
                {
                  "data": {"values": [
                    {"x1": 0, "y1": 0, "x2": 583, "y2": 0},
                    {"x1": 0, "y1": 246, "x2": 583, "y2": 246},
                    {"x1": 0, "y1": 0, "x2": 0, "y2": 246},
                    {"x1": 583, "y1": 0, "x2": 583, "y2": 246},
                    {"x1": 112, "y1": 45, "x2": 583, "y2": 45},
                    {"x1": 0, "y1": 103, "x2": 583, "y2": 103},
                    {"x1": 112, "y1": 0, "x2": 112, "y2": 246},
                    {"x1": 346, "y1": 0, "x2": 346, "y2": 246}
                  ]},
                  "mark": {"type": "rule", "color": "#1e1e1e", "strokeWidth": 1.8},
                  "encoding": {
                    "x": {"field": "x1", "type": "quantitative", "scale": {"domain": [12, 583], "nice": false, "zero": false}, "axis": null},
                    "x2": {"field": "x2"},
                    "y": {"field": "y1", "type": "quantitative", "scale": {"domain": [0, 246], "nice": false, "zero": false, "reverse": true}, "axis": null},
                    "y2": {"field": "y2"}
                  }
                },
                {
                  "data": {"values": [
                    {"x1": 279, "y1": 45, "x2": 279, "y2": 246},
                    {"x1": 510, "y1": 45, "x2": 510, "y2": 246}
                  ]},
                  "mark": {"type": "rule", "color": "#1e1e1e", "strokeWidth": 1.6, "strokeDash": [3, 3]},
                  "encoding": {
                    "x": {"field": "x1", "type": "quantitative", "scale": {"domain": [12, 583], "nice": false, "zero": false}, "axis": null},
                    "x2": {"field": "x2"},
                    "y": {"field": "y1", "type": "quantitative", "scale": {"domain": [0, 246], "nice": false, "zero": false, "reverse": true}, "axis": null},
                    "y2": {"field": "y2"}
                  }
                },
                {
                  "data": {"values": [
                    {"text": "Age", "x": 68, "y": 32},
                    {"text": "(weeks)", "x": 68, "y": 60},
                    {"text": "m⁺/db", "x": 218, "y": 26},
                    {"text": "db/db", "x": 471, "y": 26},
                    {"text": "Probability", "x": 193, "y": 77},
                    {"text": "n#", "x": 313, "y": 77},
                    {"text": "Probability", "x": 424, "y": 77},
                    {"text": "n#", "x": 544, "y": 60}
                  ]},
                  "mark": {"type": "text", "fontSize": 21, "color": "#111", "baseline": "middle"},
                  "encoding": {
                    "x": {"field": "x", "type": "quantitative", "scale": {"domain": [12, 583], "nice": false, "zero": false}, "axis": null},
                    "y": {"field": "y", "type": "quantitative", "scale": {"domain": [0, 246], "nice": false, "zero": false, "reverse": true}, "axis": null},
                    "text": {"field": "text"}
                  }
                },
                {
                  "data": {"values": [
                    {"text": "12w", "x": 62, "y": 130},
                    {"text": "0.02%", "x": 190, "y": 129},
                    {"text": "12", "x": 309, "y": 129},
                    {"text": "99.67%", "x": 425, "y": 129},
                    {"text": "15", "x": 543, "y": 129},
                    {"text": "16w", "x": 62, "y": 175},
                    {"text": "4.5%", "x": 190, "y": 174},
                    {"text": "15", "x": 309, "y": 174},
                    {"text": "95.6%", "x": 419, "y": 174},
                    {"text": "10", "x": 543, "y": 174},
                    {"text": "20w", "x": 62, "y": 220},
                    {"text": "0.3%", "x": 190, "y": 220},
                    {"text": "6", "x": 309, "y": 220},
                    {"text": "99.63%", "x": 419, "y": 220},
                    {"text": "5", "x": 543, "y": 220}
                  ]},
                  "mark": {"type": "text", "fontSize": 21, "color": "#5a5a5a", "baseline": "middle"},
                  "encoding": {
                    "x": {"field": "x", "type": "quantitative", "scale": {"domain": [12, 583], "nice": false, "zero": false}, "axis": null},
                    "y": {"field": "y", "type": "quantitative", "scale": {"domain": [0, 246], "nice": false, "zero": false, "reverse": true}, "axis": null},
                    "text": {"field": "text"}
                  }
                },
                {
                  "data": {"values": [{"text": "Decision Boundary =", "x": 54, "y": 264}]},
                  "mark": {"type": "text", "fontSize": 22.5, "color": "#111", "align": "left", "baseline": "middle"},
                  "encoding": {
                    "x": {"field": "x", "type": "quantitative", "scale": {"domain": [12, 583], "nice": false, "zero": false}, "axis": null},
                    "y": {"field": "y", "type": "quantitative", "scale": {"domain": [0, 246], "nice": false, "zero": false, "reverse": true}, "axis": null},
                    "text": {"field": "text"}
                  }
                },
                {
                  "data": {"values": [
                    {"text": "−20.733+0.711(t", "x": 273, "y": 264},
                    {"text": ")+0.602(t", "x": 439, "y": 264},
                    {"text": ")", "x": 570, "y": 264}
                  ]},
                  "mark": {"type": "text", "font": "Liberation Serif", "fontSize": 22, "color": "#111", "align": "left", "baseline": "middle"},
                  "encoding": {
                    "x": {"field": "x", "type": "quantitative", "scale": {"domain": [12, 583], "nice": false, "zero": false}, "axis": null},
                    "y": {"field": "y", "type": "quantitative", "scale": {"domain": [0, 246], "nice": false, "zero": false, "reverse": true}, "axis": null},
                    "text": {"field": "text"}
                  }
                },
                {
                  "data": {"values": [
                    {"text": "DP", "x": 420, "y": 270.5},
                    {"text": "DP+RP", "x": 521, "y": 270.5}
                  ]},
                  "mark": {"type": "text", "fontSize": 13, "color": "#111", "align": "left", "baseline": "middle"},
                  "encoding": {
                    "x": {"field": "x", "type": "quantitative", "scale": {"domain": [12, 583], "nice": false, "zero": false}, "axis": null},
                    "y": {"field": "y", "type": "quantitative", "scale": {"domain": [0, 246], "nice": false, "zero": false, "reverse": true}, "axis": null},
                    "text": {"field": "text"}
                  }
                },
                {
                  "data": {"values": [{"x": -12, "y": 6}]},
                  "mark": {"type": "point", "shape": "circle", "size": 910, "filled": false, "fill": "white", "stroke": "#d7262b", "strokeWidth": 1.8, "opacity": 1},
                  "encoding": {
                    "x": {"field": "x", "type": "quantitative", "scale": {"domain": [12, 583], "nice": false, "zero": false}, "axis": null},
                    "y": {"field": "y", "type": "quantitative", "scale": {"domain": [0, 246], "nice": false, "zero": false, "reverse": true}, "axis": null}
                  }
                },
                {
                  "data": {"values": [{"x": -12, "y": 6, "text": "C"}]},
                  "mark": {"type": "text", "fontSize": 25, "fontWeight": "bold", "color": "#111", "baseline": "middle", "dy": 1},
                  "encoding": {
                    "x": {"field": "x", "type": "quantitative", "scale": {"domain": [12, 583], "nice": false, "zero": false}, "axis": null},
                    "y": {"field": "y", "type": "quantitative", "scale": {"domain": [0, 246], "nice": false, "zero": false, "reverse": true}, "axis": null},
                    "text": {"field": "text"}
                  }
                }
              ]
            }
          ]
        }
      ]
    },
    {
      "width": 940,
      "height": 18,
      "view": {"stroke": null},
      "data": {"values": [
        {"grp": "12 Weeks", "type": "m⁺/db", "label": "m⁺/db_12 Weeks"},
        {"grp": "12 Weeks", "type": "db/db", "label": "db/db_12 Weeks"},
        {"grp": "16 Weeks", "type": "m⁺/db", "label": "m⁺/db_16 Weeks"},
        {"grp": "16 Weeks", "type": "db/db", "label": "db/db_16 Weeks"},
        {"grp": "20 Weeks", "type": "m⁺/db", "label": "m⁺/db_20 Weeks"},
        {"grp": "20 Weeks", "type": "db/db", "label": "db/db_20 Weeks"}
      ]},
      "encoding": {
        "x": {"field": "grp", "type": "nominal", "scale": {"domain": ["12 Weeks", "16 Weeks", "20 Weeks"], "range": [-87, 1038], "paddingInner": 0, "paddingOuter": 0}, "axis": null},
        "xOffset": {"field": "type", "type": "nominal", "scale": {"domain": ["m⁺/db", "db/db"], "paddingInner": 0.99, "paddingOuter": 0.56, "align": 0}},
        "color": {"field": "grp", "type": "nominal", "scale": {"domain": ["12 Weeks", "16 Weeks", "20 Weeks"], "range": ["#e8552b", "#fdab16", "#8e3b97"]}, "legend": null}
      },
      "layer": [
        {
          "mark": {"type": "point", "filled": false, "size": 75, "strokeWidth": 1.6, "opacity": 1},
          "encoding": {
            "shape": {"field": "type", "type": "nominal", "scale": {"domain": ["m⁺/db", "db/db"], "range": ["circle", "M-1,0L1,0M0,-1L0,1"]}, "legend": null}
          }
        },
        {
          "mark": {"type": "text", "align": "left", "baseline": "middle", "dx": 12, "fontSize": 17.5},
          "encoding": {"text": {"field": "label"}}
        }
      ]
    }
  ]
}
